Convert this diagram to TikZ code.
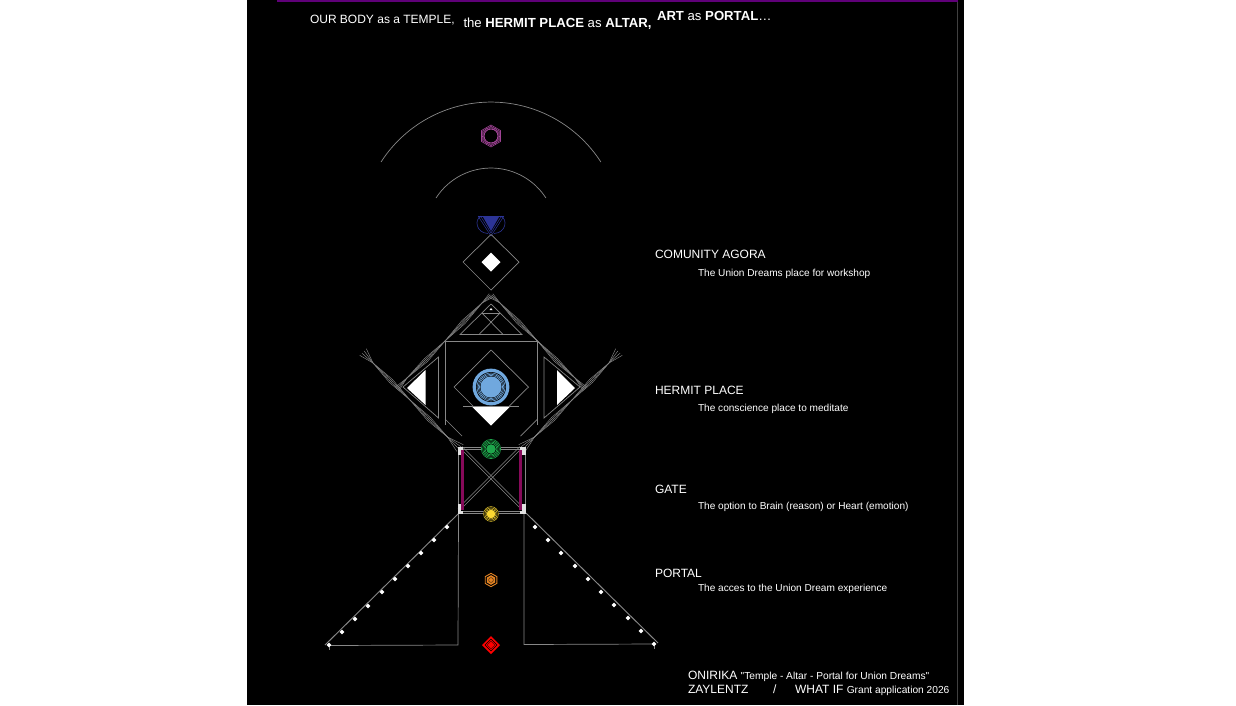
\documentclass[tikz,border=0pt]{standalone}
\usepackage{fontspec}
\usetikzlibrary{calc}
\setmainfont{Liberation Sans}[Ligatures=TeXOff]
\definecolor{linegray}{RGB}{135,135,135}
\definecolor{crownpurple}{RGB}{160,68,150}
\definecolor{browblue}{RGB}{44,52,150}
\definecolor{heartgreen}{RGB}{30,165,75}
\definecolor{solaryellow}{RGB}{250,215,50}
\definecolor{sacralorange}{RGB}{225,130,35}
\definecolor{throatblue}{RGB}{112,168,222}
\definecolor{gatemagenta}{RGB}{135,10,90}
\definecolor{toprule}{RGB}{95,0,120}
\tikzset{
  wire/.style={draw=linegray,line width=0.7pt},
  hair/.style={draw=linegray,line width=0.45pt},
  lab/.style={text=white,anchor=base west,inner sep=0pt,outer sep=0pt},
  headtext/.style={lab,font=\fontsize{12}{12}\selectfont},
  bighead/.style={lab,font=\fontsize{13.15}{14}\selectfont},
  subtext/.style={lab,font=\fontsize{10.1}{11}\selectfont},
  spark/.style={fill=white,draw=none},
  cornerwhite/.style={fill=white!88!black,draw=none},
}
% a bundle of lines that pinches at the three points p, q, r along an edge
\newcommand{\edgefan}[9]{%
  \foreach \d in {-1.5,-0.5,0.5,1.5}{
    \draw[hair] ($(#1)+\d*#9*(#8)$) -- (#2) -- ($(#3)+\d*(#8)$) -- (#4) -- ($(#5)+\d*(#8)$) -- (#6) -- ($(#7)+\d*#9*(#8)$);
  }}
% a small diamond-shaped lamp on the processional edges
\newcommand{\lamp}[2]{\fill[spark] (#1,#2-2.4) -- (#1+2.4,#2) -- (#1,#2+2.4) -- (#1-2.4,#2) -- cycle;}
\begin{document}
\begin{tikzpicture}[x=1pt,y=-1pt]
\useasboundingbox (0,0) rectangle (1236,705);
\fill[white] (0,0) rectangle (1236,705);
\fill[black] (247,0) rectangle (964,705);
\draw[draw=black!75!white,line width=0.5pt] (957.5,0) -- (957.5,705);
\fill[toprule] (277,0) rectangle (958,1.8);

% heading
\node[headtext] (headA) at (310,23) {OUR BODY as a TEMPLE,};
\node[bighead] (headB) at (463.5,27) {the \textbf{HERMIT PLACE} as \textbf{ALTAR,}};
\node[bighead] (headC) at (657,20) {\textbf{ART} as \textbf{PORTAL}…};

% side labels
\node[headtext] (agora) at (655,258) {COMUNITY AGORA};
\node[subtext] (agoraSub) at (698,276) {The Union Dreams place for workshop};
\node[headtext] (hermit) at (655,394) {HERMIT PLACE};
\node[subtext] (hermitSub) at (698,411) {The conscience place to meditate};
\node[headtext] (gate) at (655,493) {GATE};
\node[subtext] (gateSub) at (698,509) {The option to Brain (reason) or Heart (emotion)};
\node[headtext] (portal) at (655,577) {PORTAL};
\node[subtext] (portalSub) at (698,591) {The acces to the Union Dream experience};

% credits
\node[headtext] (credA) at (688,679) {ONIRIKA {\fontsize{10.2}{11}\selectfont "Temple - Altar - Portal for Union Dreams"}};
\node[headtext] (credB) at (688,693) {ZAYLENTZ};
\node[headtext] (credC) at (773,693) {/};
\node[headtext] (credD) at (795,693) {WHAT IF {\fontsize{10.2}{11}\selectfont Grant application 2026}};

% halo arcs
\draw[wire] (381,162) arc[start angle=212.8,end angle=327.2,radius=130.8];
\draw[wire] (436,198) arc[start angle=212.8,end angle=327.2,radius=65.4];

% crown mark
\foreach \r in {11,9.6,8.4}{
  \draw[crownpurple,line width=0.6pt]
    (491,136-\r) -- (491+.866*\r,136-.5*\r) -- (491+.866*\r,136+.5*\r) -- (491,136+\r) -- (491-.866*\r,136+.5*\r) -- (491-.866*\r,136-.5*\r) -- cycle;
}
\foreach \a in {30,90,150}{
  \draw[crownpurple,line width=0.5pt,rotate around={\a:(491,136)}] (491,126.5) -- (491,145.5);
}
\fill[black] (491,136) circle[radius=7.6];
\draw[crownpurple,line width=1.1pt] (491,136) circle[radius=7];
\fill[black] (491,136) circle[radius=6.2];

% brow mark
\draw[browblue,line width=0.6pt] (481,216.5) .. controls (474,219) and (476,233) .. (488,233.5);
\draw[browblue,line width=0.6pt] (501,216.5) .. controls (508,219) and (506,233) .. (494,233.5);
\draw[browblue,line width=0.7pt] (478,216) -- (504,216);
\draw[browblue,line width=0.5pt] (478,216) -- (491,236) -- (504,216);
\draw[browblue,line width=0.5pt] (480.5,216) -- (491,233) -- (501.5,216);
\fill[browblue] (483,217) -- (499,217) -- (491,231) -- cycle;

% agora diamond
\draw[wire] (491,234.5) -- (519,262) -- (491,290) -- (463,262) -- cycle;
\fill[white] (491,252.5) -- (500.5,262) -- (491,271.5) -- (481.5,262) -- cycle;

% small pyramid
\draw[wire] (491,304) -- (522,334.5) -- (460,334.5) -- cycle;
\draw[wire] (482,313) -- (500,313);
\draw[wire] (482,313) -- (503,334.5);
\draw[wire] (500,313) -- (479,334.5);
\fill[white] (489.5,310) -- (491,308) -- (492.5,310) -- cycle;

% edge bundles of the temple body
\coordinate (ula) at (491,295.5);\coordinate (ulp) at (482,303);\coordinate (ulm) at (463.5,322);
\coordinate (ulq) at (445,341);\coordinate (uln) at (426,360);\coordinate (ulr) at (407,378);\coordinate (ule) at (397,389);
\coordinate (ura) at (491,295.5);\coordinate (urp) at (500,303);\coordinate (urm) at (518.5,322);
\coordinate (urq) at (537.5,341);\coordinate (urn) at (556,360);\coordinate (urr) at (575,378);\coordinate (ure) at (585,389);
\edgefan{ula}{ulp}{ulm}{ulq}{uln}{ulr}{ule}{1,1}{1.2}
\edgefan{ura}{urp}{urm}{urq}{urn}{urr}{ure}{-1,1}{1.2}
\coordinate (lla) at (363,352);\coordinate (llp) at (373,363);\coordinate (llm) at (391,381);
\coordinate (llq) at (410,400);\coordinate (lln) at (429,419);\coordinate (llr) at (447.5,437);\coordinate (lle) at (460,448);
\coordinate (lra) at (619,352);\coordinate (lrp) at (609,363);\coordinate (lrm) at (591,381);
\coordinate (lrq) at (572,400);\coordinate (lrn) at (553,419);\coordinate (lrr) at (534.5,437);\coordinate (lre) at (522,448);
\edgefan{lla}{llp}{llm}{llq}{lln}{llr}{lle}{1,-1}{2.2}
\edgefan{lra}{lrp}{lrm}{lrq}{lrn}{lrr}{lre}{-1,-1}{2.2}

% altar square
\draw[wire] (445,425) -- (445,341) -- (537.5,341) -- (537.5,425);
\draw[wire] (445,419) -- (462,436);
\draw[wire] (537.5,419) -- (520.5,436);

% side triangles
\draw[wire] (438.5,357) -- (438.5,418) -- (403,387) -- cycle;
\fill[white] (425.5,370) -- (425.5,405) -- (407,388) -- cycle;
\draw[wire] (544,357) -- (544,418) -- (580,387) -- cycle;
\fill[white] (557,370) -- (557,405) -- (575,388) -- cycle;

% central diamond, disc and offering triangle
\draw[wire] (491,350) -- (528.5,387) -- (491,424) -- (454,387) -- cycle;
\fill[white] (472,406.5) -- (510,406.5) -- (491,425.5) -- cycle;
\draw[wire] (463,406.5) -- (519,406.5);
\fill[throatblue] (491,387) circle[radius=18.4];
\fill[black] (491,387) circle[radius=15];
\foreach \r in {11.6,12.8,14}{
  \draw[throatblue,line width=0.6pt] (491,387) circle[radius=\r];
}
\fill[throatblue] (491,387) circle[radius=10.6];

% gate frame
\draw[wire] (457.5,447) -- (525.5,447);
\draw[wire] (459,449.5) -- (523.5,449.5);
\draw[wire] (457.5,513.5) -- (525.5,513.5);
\draw[wire] (459,511) -- (523.5,511);
\draw[wire] (458,447) -- (458,513);
\draw[wire] (525,447) -- (525,513);
\draw[hair] (460,448) -- (522,510);
\draw[hair] (462,446.5) -- (524,508.5);
\draw[hair] (522,448) -- (460,510);
\draw[hair] (520,446.5) -- (458,508.5);
\fill[gatemagenta] (461,450) rectangle (464,510);
\fill[gatemagenta] (518.5,450) rectangle (521.5,510);
% white corner brackets of the gate
\fill[cornerwhite] (457.5,446.5) rectangle (463,449.5);
\fill[cornerwhite] (457.5,446.5) rectangle (461,455);
\fill[cornerwhite] (520,446.5) rectangle (525.5,449.5);
\fill[cornerwhite] (522,446.5) rectangle (525.5,455);
\fill[cornerwhite] (457.5,510.5) rectangle (463,514);
\fill[cornerwhite] (457.5,504) rectangle (461,514);
\fill[cornerwhite] (520,510.5) rectangle (525.5,514);
\fill[cornerwhite] (522,504) rectangle (525.5,514);

% heart mark
\fill[black] (491,449) circle[radius=10];
\foreach \r in {9.6,8.3,7,5.8}{
  \draw[heartgreen,line width=0.65pt] (491,449) circle[radius=\r];
}
\fill[heartgreen] (491,449) circle[radius=4.8];

% solar mark
\fill[black] (491,514) circle[radius=7.8];
\foreach \r in {7.4,6.1,5}{
  \draw[solaryellow!90!black,line width=0.55pt] (491,514) circle[radius=\r];
}
\fill[solaryellow] (491,514) circle[radius=4.3];

% sacral mark
\draw[sacralorange,line width=0.9pt] (491,573.3) -- (496.8,576.6) -- (496.8,583.4) -- (491,586.7) -- (485.2,583.4) -- (485.2,576.6) -- cycle;
\fill[sacralorange] (491,575.2) -- (495.2,577.6) -- (495.2,582.4) -- (491,584.8) -- (486.8,582.4) -- (486.8,577.6) -- cycle;
\draw[black!70!sacralorange,line width=0.5pt] (491,580) circle[radius=2.4];

% root mark
\fill[red] (491,636) -- (500,645) -- (491,654) -- (482,645) -- cycle;
\fill[black] (491,638.6) -- (497.4,645) -- (491,651.4) -- (484.6,645) -- cycle;
\fill[red] (491,639.6) -- (496.4,645) -- (491,650.4) -- (485.6,645) -- cycle;
\draw[black!60!red,line width=0.5pt] (491,641) -- (495,645) -- (491,649) -- (487,645) -- cycle;

% portal wings
\draw[wire,line width=0.95pt] (458,514) -- (325,645);
\draw[wire] (329,645.5) -- (458,645) -- (458.5,514);
\draw[wire,line width=0.95pt] (526,513) -- (658,643);
\draw[wire] (524,514) -- (524,644.5) -- (654,644);
\draw[hair] (329,645) -- (329,650);
\draw[hair] (654,644) -- (654,649);
\foreach \x/\y in {329/645,342/632,355/619,368/606,382/592,395/579,408/566,421/553,434/540,447/527,
                   535/527,548/540,561/553,575/566,588/579,601/592,614/605,628/618,641/631,654/644}{
  \lamp{\x}{\y}
}
\end{tikzpicture}
\end{document}
